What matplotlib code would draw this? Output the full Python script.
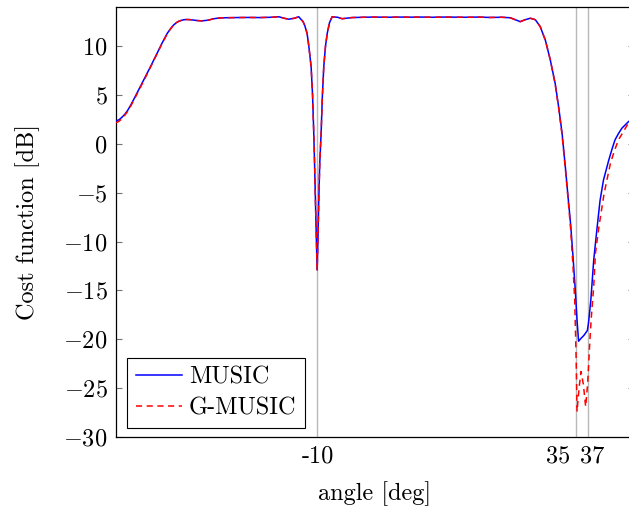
import numpy as np
import matplotlib
matplotlib.use("Agg")
import matplotlib.pyplot as plt
from matplotlib.transforms import ScaledTranslation

plt.rcParams["font.family"] = "serif"
plt.rcParams["font.serif"] = ["cmr10", "DejaVu Serif"]
plt.rcParams["mathtext.fontset"] = "cm"
plt.rcParams["axes.formatter.use_mathtext"] = True

# Datos (angulo en grados, funcion de coste en dB)
music_angle = [
    -45, -44.5, -44, -43.5, -43, -42.5, -42, -41, -40, -39, -38, -37, -36.1,
    -35.5, -35, -34.5, -34, -33.2, -32.7, -32, -31, -30.1, -29, -28, -27, -26,
    -24, -22, -20, -18, -16.7, -15.8, -15, -14, -13.25, -12.5, -12.2, -11.8,
    -11.5, -11.1, -10.85, -10.64, -10.5, -10.35, -10.2, -10.05, -9.9, -9.77,
    -9.6, -9.36, -9.15, -8.9, -8.6, -8.3, -7.9, -7.45, -6.5, -5.7, -5, -4, -2,
    0, 2, 4, 6, 8, 10, 12, 14, 16, 18, 20, 22, 23.5, 25.24, 26.1, 26.98, 27.85,
    28.7, 29.6, 30.45, 31.3, 31.9, 32.5, 33.06, 33.6, 34.0, 34.4, 34.8, 35.1,
    35.37, 35.8, 36.3, 36.9, 37.1, 37.5, 38.0, 38.6, 39.1, 39.7, 40.6, 41.2,
    41.7, 42.3, 42.9, 44.1, 45,
]
music_db = [
    2.35, 2.45, 2.7, 3.0, 3.4, 3.9, 4.45, 5.6, 6.75, 7.9, 9.1, 10.3, 11.3,
    11.8, 12.15, 12.4, 12.57, 12.7, 12.72, 12.7, 12.62, 12.58, 12.65, 12.8,
    12.88, 12.9, 12.92, 12.93, 12.92, 12.95, 13.0, 12.85, 12.75, 12.85, 13.0,
    12.5, 12.1, 11.3, 10.0, 7.9, 5.0, 1.1, -2.0, -5.8, -9.5, -12.9, -9.5, -5.8,
    -2.0, 1.1, 4.8, 7.9, 10.0, 11.3, 12.4, 13.0, 12.95, 12.8, 12.85, 12.92,
    12.95, 12.97, 12.95, 12.97, 12.96, 12.97, 12.95, 12.97, 12.96, 12.95,
    12.97, 12.93, 12.95, 12.9, 12.5, 12.7, 12.85, 12.7, 12.0, 10.6, 8.6, 6.2,
    3.8, 1.1, -2.3, -5.8, -8.3, -11.5, -15.0, -18.0, -20.2, -19.9, -19.6,
    -19.1, -18.3, -16.0, -11.9, -8.5, -5.8, -3.7, -1.7, -0.5, 0.4, 1.05, 1.6,
    2.3, 2.6,
]

gmusic_angle = [
    -45, -44.5, -44, -43.5, -43, -42.5, -42, -41, -40, -39, -38, -37, -36.1,
    -35.5, -35, -34.5, -34, -33.2, -32.7, -32, -31, -30.1, -29, -28, -27, -26,
    -24, -22, -20, -18, -16.7, -15.8, -15, -14, -13.25, -12.5, -12.2, -11.8,
    -11.5, -11.1, -10.85, -10.64, -10.5, -10.35, -10.2, -10.05, -9.9, -9.77,
    -9.6, -9.36, -9.15, -8.9, -8.6, -8.3, -7.9, -7.45, -6.5, -5.7, -5, -4, -2,
    0, 2, 4, 6, 8, 10, 12, 14, 16, 18, 20, 22, 23.5, 25.24, 26.1, 26.98, 27.85,
    28.7, 29.6, 30.45, 31.3, 31.9, 32.5, 33.06, 33.6, 34.0, 34.4, 34.7, 34.95,
    35.1, 35.45, 35.8, 36.2, 36.6, 36.95, 37.3, 37.55, 38.0, 38.3, 38.9, 39.8,
    40.9, 41.6, 42.3, 43.8, 45,
]
gmusic_db = [
    2.15, 2.3, 2.55, 2.9, 3.3, 3.8, 4.35, 5.5, 6.65, 7.85, 9.05, 10.25, 11.25,
    11.78, 12.13, 12.4, 12.57, 12.7, 12.72, 12.7, 12.62, 12.58, 12.65, 12.8,
    12.88, 12.9, 12.92, 12.93, 12.92, 12.95, 13.0, 12.85, 12.75, 12.85, 13.0,
    12.5, 12.1, 11.3, 10.0, 7.9, 5.0, 1.1, -2.0, -5.8, -9.5, -12.9, -9.5, -5.8,
    -2.0, 1.1, 4.8, 7.9, 10.0, 11.3, 12.4, 13.0, 12.95, 12.8, 12.85, 12.92,
    12.95, 12.97, 12.95, 12.97, 12.96, 12.97, 12.95, 12.97, 12.96, 12.95,
    12.97, 12.93, 12.95, 12.9, 12.5, 12.7, 12.85, 12.7, 12.0, 10.6, 8.6, 6.1,
    3.7, 0.9, -2.5, -6.0, -8.8, -12.5, -16.0, -22.0, -27.4, -25.0, -23.3,
    -24.6, -26.9, -24.5, -20.5, -18.0, -14.6, -11.2, -8.5, -5.1, -2.0, -0.7,
    0.4, 1.9, 2.4,
]

marked_angles = [-10, 35, 37]
marked_labels = ["-10", "35", "37"]
y_ticks = [-30, -25, -20, -15, -10, -5, 0, 5, 10]

FS = 17.5

fig = plt.figure(figsize=(6.29, 5.12), dpi=100)
ax = fig.add_axes([116 / 629, 75 / 512, 518 / 629, 430 / 512])

for a in marked_angles:
    ax.axvline(a, color="#b8b8b8", linewidth=1.0, zorder=1)

ax.plot(music_angle, music_db, color="blue", linewidth=1.1, label="MUSIC", zorder=3)
ax.plot(gmusic_angle, gmusic_db, color="red", linewidth=1.1, linestyle=(0, (4, 3)),
        label="G-MUSIC", zorder=4)

ax.set_xlim(-45, 45)
ax.set_ylim(-30, 14)

ax.set_xticks(marked_angles)
ax.set_xticklabels(marked_labels, fontsize=FS)
ax.set_yticks(y_ticks)
ax.set_yticklabels([f"${v}$" for v in y_ticks], fontsize=FS)
ax.tick_params(axis="x", length=0, pad=6)
ax.tick_params(axis="y", direction="in", length=4.5, width=0.8, color="0.45",
               left=True, right=True, pad=6)

# 35 y 37 quedan muy juntos: se separan como en el original
xlabels = ax.get_xticklabels()
xlabels[1].set_ha("right")
xlabels[1].set_transform(xlabels[1].get_transform() + ScaledTranslation(-0.06, 0, fig.dpi_scale_trans))
xlabels[2].set_ha("left")
xlabels[2].set_transform(xlabels[2].get_transform() + ScaledTranslation(-0.08, 0, fig.dpi_scale_trans))

for spine in ax.spines.values():
    spine.set_linewidth(0.9)
    spine.set_color("black")

ax.set_xlabel("angle [deg]", fontsize=FS, labelpad=10)
ax.set_ylabel("Cost function [dB]", fontsize=FS, labelpad=17)

leg = ax.legend(loc="lower left", bbox_to_anchor=(11 / 518, 9 / 430), borderaxespad=0,
                fontsize=FS, frameon=True, fancybox=False, framealpha=1,
                edgecolor="black", handlelength=1.9, handletextpad=0.3,
                labelspacing=0.35, borderpad=0.35)
leg.get_frame().set_linewidth(0.8)

fig.savefig("out.png", dpi=100)
